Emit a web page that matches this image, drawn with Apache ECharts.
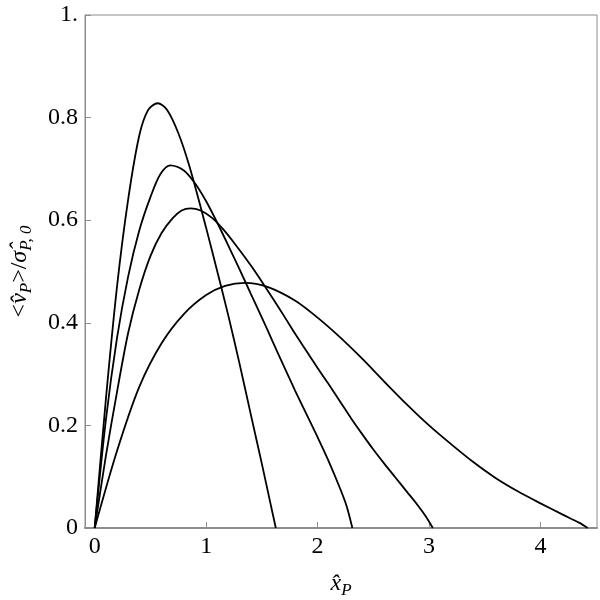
<!DOCTYPE html>
<html>
<head>
<meta charset="utf-8">
<script src="https://cdn.jsdelivr.net/npm/echarts@6/dist/echarts.min.js"></script>
<style>
  html, body { margin: 0; padding: 0; background: #fff; }
  #chart { width: 600px; height: 600px; }
</style>
</head>
<body>
<div id="chart"></div>
<script>
// curve data, with a point on each peak
const xA = [0, 0.1, 0.2, 0.3, 0.4, 0.48, 0.565, 0.65, 0.75, 0.85, 1.0, 1.1, 1.2, 1.3, 1.4, 1.5, 1.575, 1.625]
const yA = [0, 0.25, 0.47, 0.64, 0.765, 0.815, 0.828, 0.815, 0.77, 0.705, 0.585, 0.50, 0.413, 0.32, 0.222, 0.125, 0.05, 0]

const xB = [0, 0.1, 0.2, 0.3, 0.4, 0.5, 0.59, 0.68, 0.8, 0.9, 1.0, 1.1, 1.2, 1.3, 1.4, 1.5, 1.6, 1.7, 1.8, 1.9, 2.0, 2.1, 2.2, 2.26, 2.312]
const yB = [0, 0.21, 0.37, 0.49, 0.58, 0.645, 0.69, 0.707, 0.697, 0.672, 0.637, 0.595, 0.55, 0.504, 0.457, 0.41, 0.362, 0.314, 0.267, 0.222, 0.177, 0.13, 0.078, 0.043, 0]

const xC = [0, 0.1, 0.2, 0.3, 0.4, 0.5, 0.6, 0.7, 0.78, 0.86, 0.95, 1.05, 1.15, 1.25, 1.4, 1.5, 1.6, 1.7, 1.8, 1.9, 2.0, 2.1, 2.2, 2.3, 2.4, 2.5, 2.6, 2.7, 2.8, 2.9, 2.97, 3.034]
const yC = [0, 0.14, 0.265, 0.38, 0.465, 0.53, 0.575, 0.604, 0.619, 0.623, 0.619, 0.605, 0.583, 0.556, 0.512, 0.48, 0.447, 0.413, 0.378, 0.345, 0.312, 0.28, 0.247, 0.214, 0.183, 0.153, 0.125, 0.098, 0.071, 0.044, 0.023, 0]

const xD = [0, 0.2, 0.4, 0.6, 0.8, 1.0, 1.17, 1.35, 1.55, 1.8, 2.0, 2.2, 2.4, 2.6, 2.8, 3.0, 3.2, 3.4, 3.6, 3.8, 4.0, 4.2, 4.35, 4.423]
const yD = [0, 0.15, 0.275, 0.36, 0.417, 0.454, 0.472, 0.478, 0.47, 0.443, 0.41, 0.372, 0.33, 0.285, 0.241, 0.2, 0.163, 0.128, 0.097, 0.071, 0.048, 0.026, 0.01, 0]

const xTicks = [0, 1, 2, 3, 4]
const yTicks = [0, 0.2, 0.4, 0.6, 0.8, 1]

const font = "'Liberation Serif', 'Times New Roman', serif"
const frameColor = '#8c8c8c'

const pairs = (xs, ys) => xs.map((x, i) => [x, ys[i]])

const chart = echarts.init(document.getElementById('chart'))

const lineSeries = [[xA, yA], [xB, yB], [xC, yC], [xD, yD]].map(([xs, ys]) => ({
  type: 'line',
  data: pairs(xs, ys),
  smooth: 0.3,
  showSymbol: false,
  lineStyle: { color: '#000', width: 1.8 }
}))

const nameRich = {
  a: { fontFamily: font, fontSize: 24, color: '#000' },
  i: { fontFamily: font, fontStyle: 'italic', fontSize: 24, color: '#000' },
  s: { fontFamily: font, fontStyle: 'italic', fontSize: 17, color: '#000', verticalAlign: 'bottom', padding: [14, 0, 0, 0] }
}

const option = {
  animation: false,
  grid: {
    left: 85,
    top: 15,
    right: 3,
    bottom: 72,
    containLabel: false,
    outerBoundsMode: 'none',
    show: true,
    borderColor: frameColor,
    borderWidth: 1
  },
  xAxis: {
    type: 'value',
    min: -0.087,
    max: 4.507,
    name: '{i|x̂}{s|P}',
    nameLocation: 'middle',
    nameGap: 40,
    nameTextStyle: { fontFamily: font, fontSize: 24, rich: nameRich },
    splitLine: { show: false },
    axisLine: { show: true, onZero: false, lineStyle: { color: frameColor, width: 2 } },
    axisTick: { show: true, inside: true, length: 6, customValues: xTicks, lineStyle: { color: frameColor } },
    axisLabel: {
      customValues: xTicks,
      fontFamily: font,
      fontSize: 24,
      color: '#000',
      margin: 7
    }
  },
  yAxis: {
    type: 'value',
    min: 0,
    max: 1,
    name: '{a|<}{i|v̂}{s|P}{a|>/}{i|σ̂}{s|P, 0}',
    nameLocation: 'middle',
    nameRotate: 90,
    nameGap: 50,
    nameTextStyle: { fontFamily: font, fontSize: 24, rich: nameRich },
    splitLine: { show: false },
    axisLine: { show: true, onZero: false, lineStyle: { color: frameColor, width: 1 } },
    axisTick: { show: true, inside: true, length: 6, customValues: yTicks, lineStyle: { color: frameColor } },
    axisLabel: {
      customValues: yTicks,
      fontFamily: font,
      fontSize: 24,
      color: '#000',
      margin: 7,
      formatter: v => (v === 0 ? '0' : v === 1 ? '1.' : v.toFixed(1))
    }
  },
  series: lineSeries
}

chart.setOption(option)
</script>
</body>
</html>
